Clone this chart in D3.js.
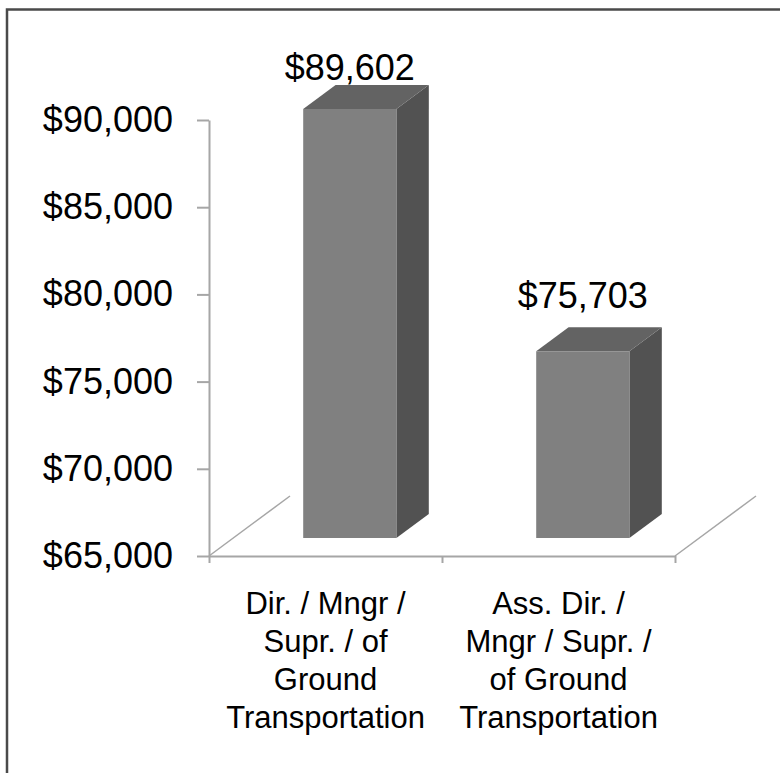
<!DOCTYPE html>
<html lang="en">
  <head>
    <meta charset="UTF-8" />
    <title>3D bar chart</title>
    <script src="https://d3js.org/d3.v7.min.js"></script>
    <style>
      body { margin: 0; background: #fff; }
      svg { display: block; font-family: "Liberation Sans", Arial, sans-serif; }
      .axis path, .axis line { stroke: #a6a6a6; stroke-width: 2; }
      .axis text { fill: #000; font-size: 36px; }
    </style>
  </head>
  <body>
    <svg id="chart" width="780" height="773"></svg>
    <script>
      // data
      const categories = ["Dir. / Mngr / Supr. / of Ground Transportation",
                          "Ass. Dir. / Mngr / Supr. / of Ground Transportation"];
      const categoryLines = [
        ["Dir. / Mngr /", "Supr. / of", "Ground", "Transportation"],
        ["Ass. Dir. /", "Mngr / Supr. /", "of Ground", "Transportation"]
      ];
      const values = [89602, 75703];
      const yTicks = [65000, 70000, 75000, 80000, 85000, 90000];

      const svg = d3.select("#chart");
      const fmt = d => "$" + d3.format(",")(d);

      // frame
      svg.append("rect")
        .attr("x", 7).attr("y", 9.5)
        .attr("width", 800).attr("height", 800)
        .attr("fill", "none").attr("stroke", "#4a4a4a").attr("stroke-width", 2.5);

      // plot geometry
      const left = 209, right = 675, floorY = 556, topY = 120;
      const depth = { dx: 81, dy: -60 };
      const proj = (x, yy, d) => [x + depth.dx * d, yy + depth.dy * d];

      const y = d3.scaleLinear().domain([65000, 90000]).range([floorY, topY]);
      const x = d3.scaleBand().domain(categories).range([left, right])
        .paddingInner(0.6).paddingOuter(0.3);
      const xEdge = d3.scaleLinear().domain([0, categories.length]).range([left, right]);

      // floor side lines
      [left, right].forEach(px => {
        const p = proj(px, floorY, 1);
        svg.append("line")
          .attr("x1", px).attr("y1", floorY).attr("x2", p[0]).attr("y2", p[1])
          .attr("stroke", "#a6a6a6").attr("stroke-width", 1.5);
      });

      // axes
      svg.append("g")
        .attr("class", "axis")
        .attr("transform", `translate(${left},0)`)
        .call(d3.axisLeft(y).tickValues(yTicks).tickFormat(fmt)
          .tickSize(12).tickSizeOuter(0).tickPadding(24));

      svg.append("g")
        .attr("class", "axis")
        .attr("transform", `translate(0,${floorY})`)
        .call(d3.axisBottom(xEdge).tickValues(d3.range(categories.length + 1))
          .tickFormat("").tickSize(7).tickSizeOuter(0));

      // bars
      const d1 = 0.3, d2 = 0.7;
      const base = y.domain()[0];
      const bars = svg.append("g").selectAll("g").data(values).join("g");

      const poly = pts => pts.map(p => p.join(",")).join(" ");

      bars.append("polygon") // side
        .attr("fill", "#525252")
        .attr("points", (v, i) => {
          const xr = x(categories[i]) + x.bandwidth();
          return poly([proj(xr, y(v), d1), proj(xr, y(v), d2), proj(xr, y(base), d2), proj(xr, y(base), d1)]);
        });
      bars.append("polygon") // top
        .attr("fill", "#636363")
        .attr("points", (v, i) => {
          const xl = x(categories[i]), xr = xl + x.bandwidth();
          return poly([proj(xl, y(v), d1), proj(xl, y(v), d2), proj(xr, y(v), d2), proj(xr, y(v), d1)]);
        });
      bars.append("polygon") // front
        .attr("fill", "#808080")
        .attr("points", (v, i) => {
          const xl = x(categories[i]), xr = xl + x.bandwidth();
          return poly([proj(xl, y(v), d1), proj(xr, y(v), d1), proj(xr, y(base), d1), proj(xl, y(base), d1)]);
        });

      // value labels
      bars.append("text")
        .attr("x", (v, i) => proj(x(categories[i]) + x.bandwidth() / 2, 0, d1)[0])
        .attr("y", v => Math.max(80, proj(0, y(v), d1)[1] - 43))
        .attr("text-anchor", "middle")
        .attr("font-size", 36)
        .text(fmt);

      // category labels
      svg.append("g").selectAll("text").data(categoryLines).join("text")
        .attr("text-anchor", "middle")
        .attr("font-size", 31)
        .attr("transform", (d, i) => `translate(${x(categories[i]) + x.bandwidth() / 2},614)`)
        .selectAll("tspan").data(d => d).join("tspan")
        .attr("x", 0)
        .attr("y", (d, j) => j * 38)
        .text(d => d);
    </script>
  </body>
</html>
